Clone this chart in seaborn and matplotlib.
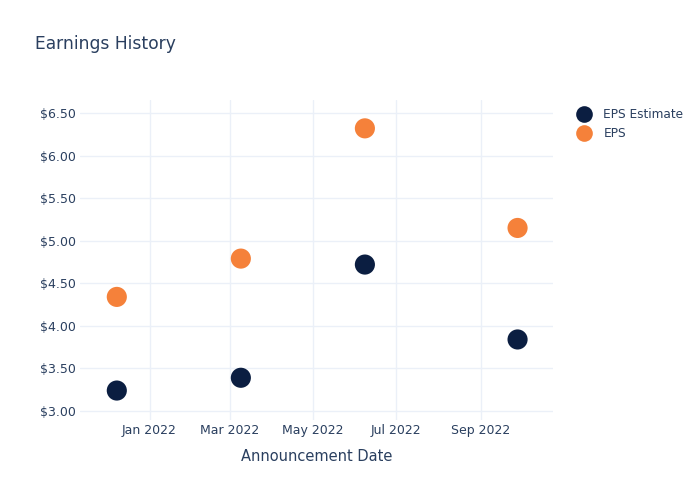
import matplotlib
matplotlib.use("Agg")
import matplotlib.pyplot as plt
import matplotlib.dates as mdates
import matplotlib.ticker as mticker
import seaborn as sns
import pandas as pd

dates = ["2021-12-08", "2022-03-09", "2022-06-08", "2022-09-28"]
eps_estimate = [3.24, 3.39, 4.72, 3.84]
eps_actual = [4.34, 4.79, 6.32, 5.15]
series_names = ["EPS Estimate", "EPS"]
colors = ["#0b1e41", "#f5813a"]

df = pd.DataFrame({
    "date": pd.to_datetime(dates * 2),
    "value": eps_estimate + eps_actual,
    "series": [series_names[0]] * len(dates) + [series_names[1]] * len(dates),
})

sns.set_theme(style="white")
plt.rcParams["font.family"] = ["DejaVu Sans"]
text_color = "#2a3f5f"

fig = plt.figure(figsize=(7, 5), dpi=100)
ax = fig.add_axes([80 / 700, 80 / 500, (553 - 80) / 700, 320 / 500])

sns.scatterplot(data=df, x="date", y="value", hue="series",
                palette=dict(zip(series_names, colors)), s=210,
                linewidth=0, ax=ax, legend=False, zorder=3)

ax.set_xlim(pd.Timestamp("2021-11-11"), pd.Timestamp("2022-10-24"))
ax.set_ylim(2.894, 6.653)
ax.xaxis.set_major_locator(mdates.MonthLocator(bymonth=[1, 3, 5, 7, 9]))
ax.xaxis.set_major_formatter(mdates.DateFormatter("%b %Y"))
ax.yaxis.set_major_locator(mticker.MultipleLocator(0.5))
ax.yaxis.set_major_formatter(mticker.FuncFormatter(lambda v, p: f"${v:.2f}"))

ax.grid(True, color="#ebf0f8", linewidth=1)
ax.set_axisbelow(True)
for sp in ax.spines.values():
    sp.set_visible(False)
ax.tick_params(axis="both", length=0, labelsize=9, labelcolor=text_color)
ax.tick_params(axis="y", pad=3)
ax.tick_params(axis="x", pad=3)
ax.set_xlabel("Announcement Date", fontsize=10.5, color=text_color, labelpad=8.5)
ax.set_ylabel("")

fig.text(35 / 700, 1 - 44 / 500, "Earnings History", fontsize=12.3,
         color=text_color, va="center", ha="left")

handles = [plt.Line2D([], [], linestyle="", marker="o", markersize=12,
                      markerfacecolor=c, markeredgewidth=0) for c in colors]
fig.legend(handles, series_names, loc="upper left",
           bbox_to_anchor=(572 / 700, 1 - 103 / 500), frameon=False,
           fontsize=8.7, labelcolor=text_color, handletextpad=1.0,
           labelspacing=0.5, borderaxespad=0, handlelength=1.2)

fig.savefig("out.png", dpi=100)
